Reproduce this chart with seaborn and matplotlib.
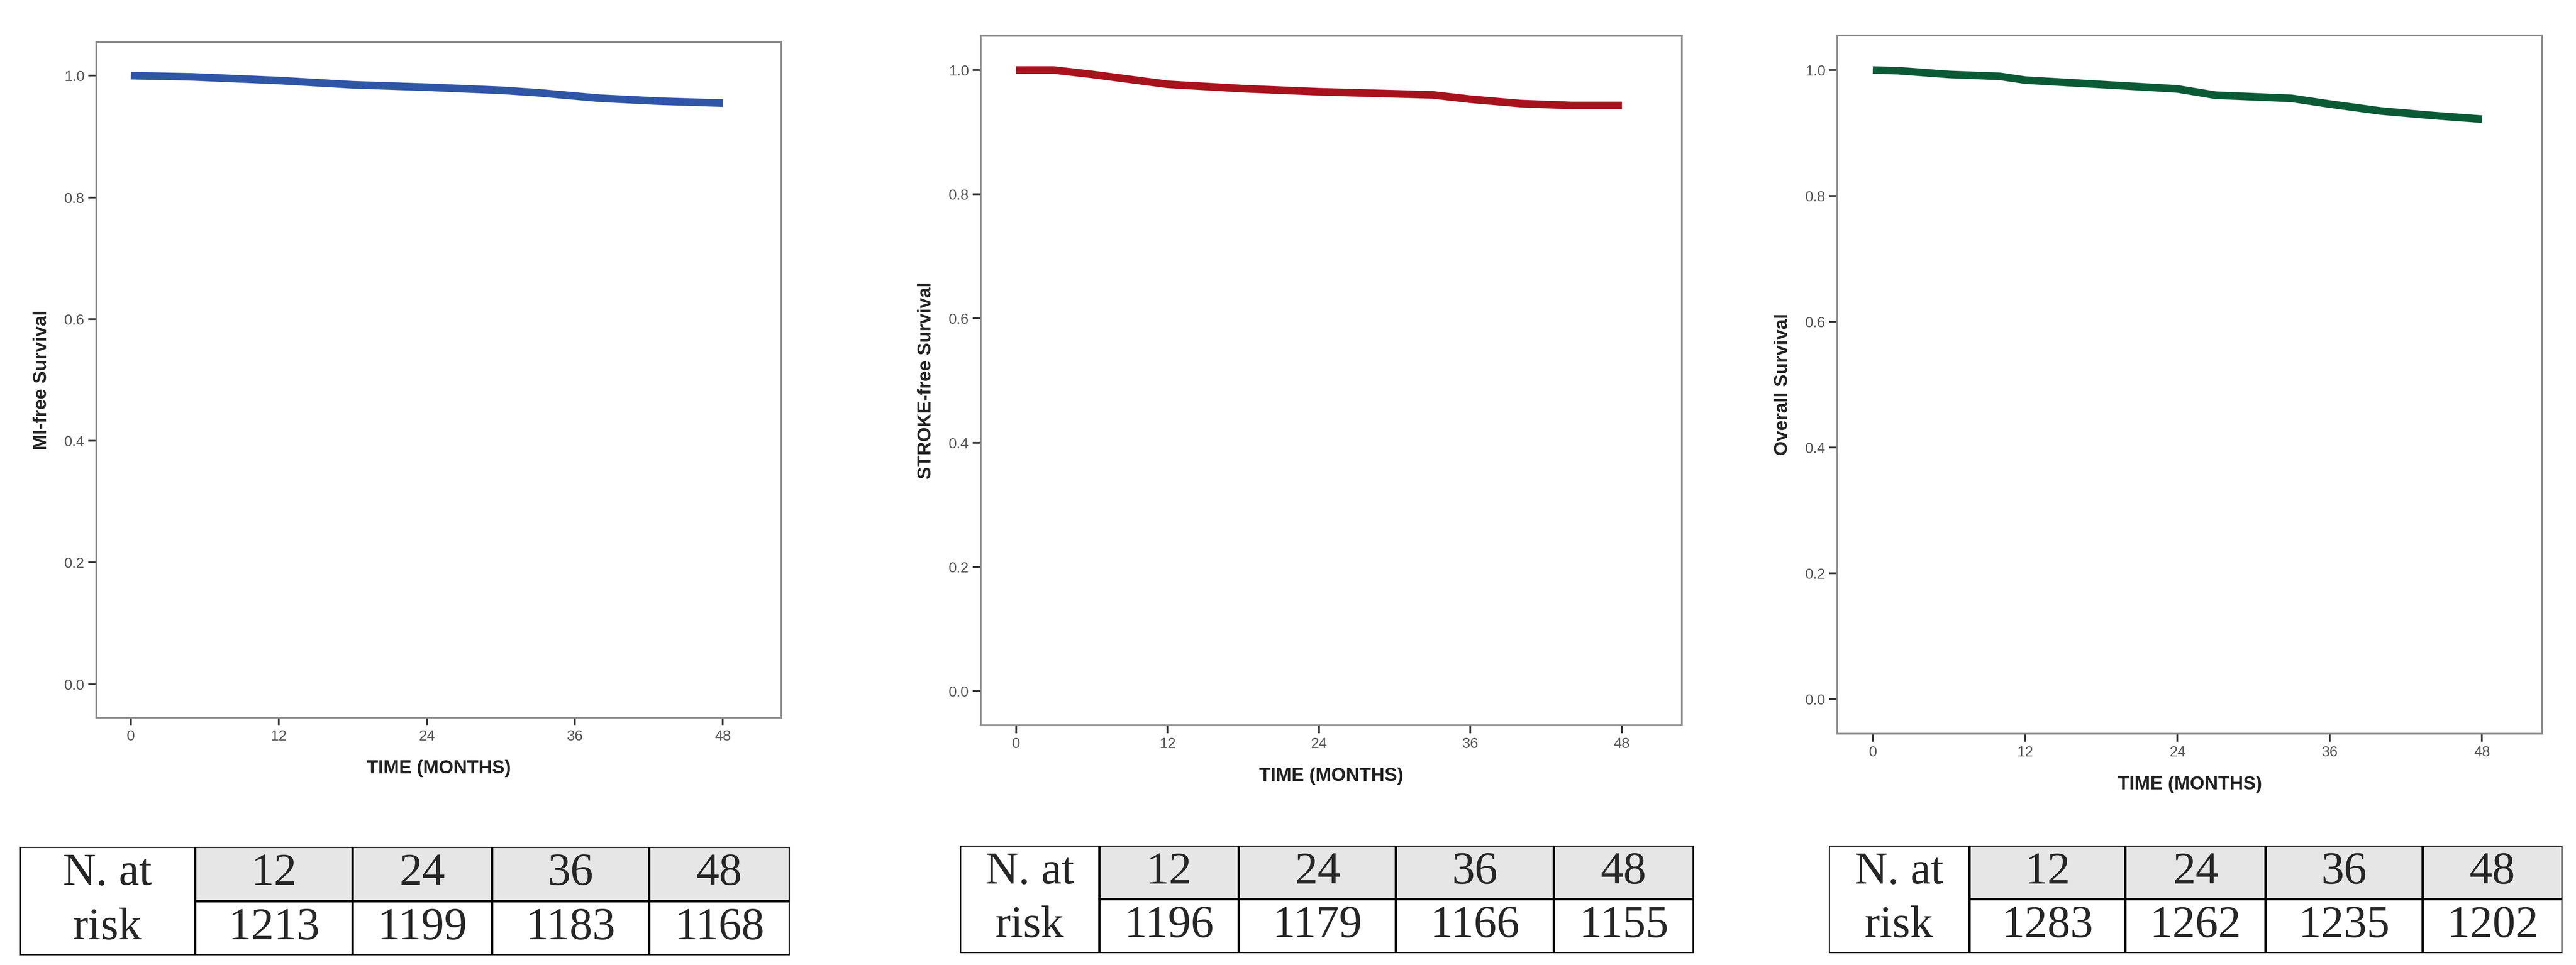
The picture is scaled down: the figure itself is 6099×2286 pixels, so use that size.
import numpy as np
import pandas as pd
import matplotlib
matplotlib.use("Agg")
import matplotlib.pyplot as plt
import seaborn as sns

sns.set_style("white")
plt.rcParams['font.family'] = ['Liberation Sans', 'DejaVu Sans']

# Data
mi_time = [0, 5, 12, 18, 24, 30, 33, 38, 43, 48]
mi_surv = [1.0, 0.998, 0.992, 0.985, 0.981, 0.976, 0.972, 0.963, 0.958, 0.955]
stroke_time = [0, 3, 6, 9, 12, 18, 24, 33, 36, 40, 44, 48]
stroke_surv = [1.0, 1.0, 0.993, 0.985, 0.977, 0.970, 0.965, 0.960, 0.953, 0.946, 0.943, 0.943]
os_time = [0, 2, 6, 10, 12, 18, 24, 27, 33, 36, 40, 44, 48]
os_surv = [1.0, 0.999, 0.993, 0.990, 0.984, 0.977, 0.970, 0.960, 0.955, 0.946, 0.935, 0.928, 0.922]
risk_months = ["12", "24", "36", "48"]
mi_risk = ["1213", "1199", "1183", "1168"]
stroke_risk = ["1196", "1179", "1166", "1155"]
os_risk = ["1283", "1262", "1235", "1202"]

ylabels = ["MI-free Survival", "STROKE-free Survival", "Overall Survival"]
colors = ["#2f56a6", "#a8121c", "#0b5a36"]
series = [(mi_time, mi_surv), (stroke_time, stroke_surv), (os_time, os_surv)]
risks = [mi_risk, stroke_risk, os_risk]

W, H = 6099, 2286
fig = plt.figure(figsize=(W / 100, H / 100), dpi=100)

ax_px = [(228, 1850, 100, 1700), (2322, 3982, 85, 1718), (4350, 6019, 84, 1738)]
tb_px = [(47, 1870, 2006, 2263, [462, 835, 1165, 1537]),
         (2273, 4010, 2003, 2258, [2603, 2933, 3305, 3679]),
         (4330, 6067, 2003, 2258, [4663, 5032, 5364, 5736])]

def fx(p): return p / W
def fy(p): return 1 - p / H

for i in range(3):
    l, r, t, b = ax_px[i]
    ax = fig.add_axes([fx(l), fy(b), fx(r - l), (b - t) / H])
    df = pd.DataFrame({"t": series[i][0], "s": series[i][1]})
    sns.lineplot(data=df, x="t", y="s", ax=ax, color=colors[i], lw=13,
                 solid_capstyle="butt")
    ax.set_xlim(-2.8, 52.75)
    ax.set_ylim(-0.055, 1.055)
    ax.set_xticks([0, 12, 24, 36, 48])
    ax.set_yticks([0, 0.2, 0.4, 0.6, 0.8, 1.0])
    ax.set_yticklabels(["0.0", "0.2", "0.4", "0.6", "0.8", "1.0"])
    ax.tick_params(axis="both", direction="out", length=14, width=3, color="#333333",
                   labelsize=25, labelcolor="#555555", left=True, bottom=True, pad=6)
    for s in ax.spines.values():
        s.set_color("#8a8a8a")
        s.set_linewidth(3)
    ax.set_xlabel("TIME (MONTHS)", fontsize=32, fontweight="bold", color="#222222", labelpad=28)
    ax.set_ylabel(ylabels[i], fontsize=32, fontweight="bold", color="#222222", labelpad=24)

    tl, tr, tt, tbm, cols = tb_px[i]
    tax = fig.add_axes([fx(tl), fy(tbm), fx(tr - tl), (tbm - tt) / H])
    tax.set_xlim(tl, tr)
    tax.set_ylim(tbm, tt)
    tax.axis("off")
    mid = (tt + tbm) / 2
    edges = [tl] + cols + [tr]
    tax.fill_between([cols[0], tr], tt, mid, color="#e6e6e6", zorder=0)
    lw = 4
    tax.plot([tl, tr, tr, tl, tl], [tt, tt, tbm, tbm, tt], color="black", lw=lw, zorder=3)
    for c in cols:
        tax.plot([c, c], [tt, tbm], color="black", lw=lw, zorder=3)
    tax.plot([cols[0], tr], [mid, mid], color="black", lw=lw, zorder=3)
    serif = ["Liberation Serif", "DejaVu Serif"]
    fs = 78
    tax.text((tl + cols[0]) / 2, (tt + mid) / 2, "N. at", ha="center", va="center", fontsize=fs, family=serif)
    tax.text((tl + cols[0]) / 2, (mid + tbm) / 2, "risk", ha="center", va="center", fontsize=fs, family=serif)
    for j in range(4):
        cx = (edges[j + 1] + edges[j + 2]) / 2
        tax.text(cx, (tt + mid) / 2, risk_months[j], ha="center", va="center", fontsize=fs, family=serif)
        tax.text(cx, (mid + tbm) / 2, risks[i][j], ha="center", va="center", fontsize=fs, family=serif)

fig.savefig("out.png", dpi=100, facecolor="white")
